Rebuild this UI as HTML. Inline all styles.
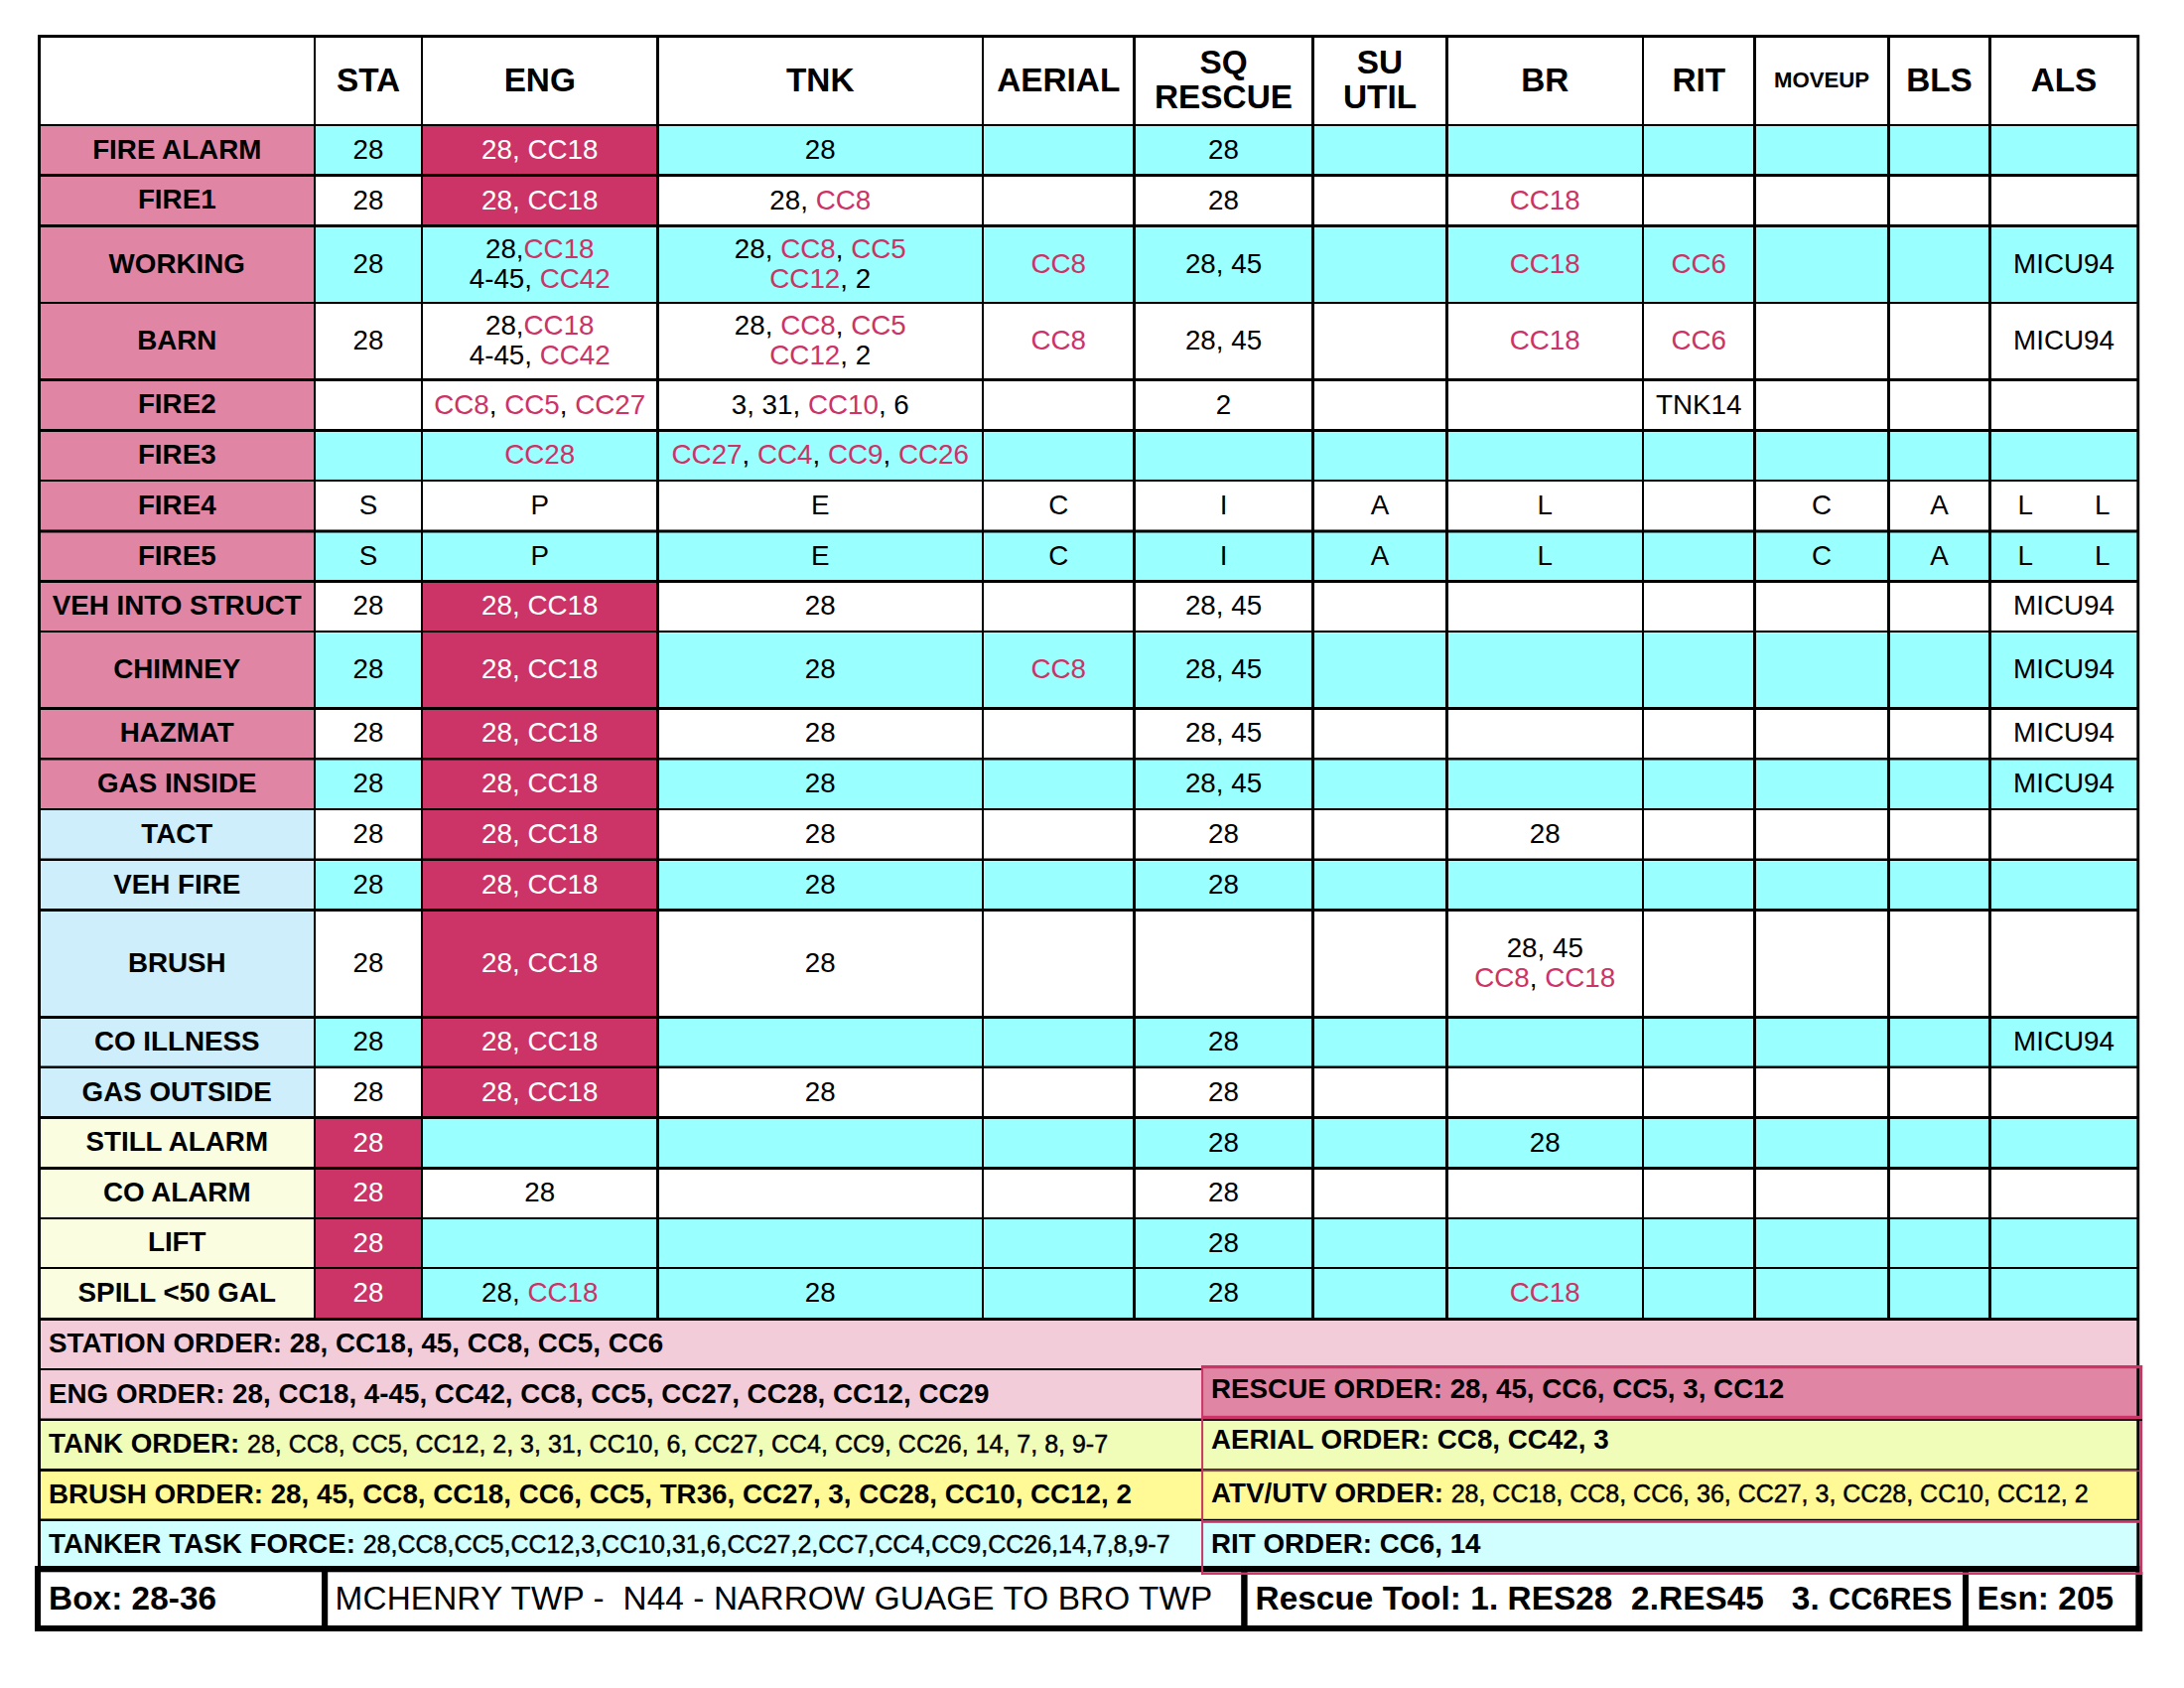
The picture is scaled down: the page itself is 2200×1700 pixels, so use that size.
<!DOCTYPE html>
<html lang="en"><head><meta charset="utf-8"><title>Box 28-36 Run Card</title>
<style>
html,body{margin:0;padding:0;background:#fff}
body{width:2200px;height:1700px;position:relative;overflow:hidden;font-family:"Liberation Sans",Arial,sans-serif;color:#000}
svg{position:absolute;left:0;top:0}
.c{position:absolute;display:flex;align-items:center;justify-content:center;text-align:center;white-space:nowrap;box-sizing:border-box}
.c>i{font-style:normal;display:block}
.h{font-weight:bold;font-size:33.33px;line-height:35.8px}
.l{font-weight:bold;font-size:27.78px;line-height:32px}
.d{font-size:27.78px;line-height:30.3px}
.w{color:#fff}
.p{color:#CC3366}
.mv{font-size:22.2px;position:relative;top:-1.4px}
.gap{display:inline-block;width:62px}
.t{position:absolute;white-space:pre;height:40px;line-height:40px}
.o{font-weight:bold;font-size:27.78px}
.v{font-weight:normal;font-size:25px;-webkit-text-stroke:0.45px #000}
.b{font-weight:bold;font-size:33.33px;letter-spacing:0.06px}
.r{font-weight:normal;letter-spacing:0.11px}
.s{font-size:30.56px}
</style></head>
<body>
<svg width="2200" height="1700" viewBox="0 0 2200 1700">
<rect x="39.5" y="126" width="277.5" height="50.5" fill="#E085A3"/>
<rect x="317" y="126" width="1836.5" height="50.5" fill="#99FFFF"/>
<rect x="425" y="126" width="237.5" height="50.5" fill="#CC3366"/>
<rect x="39.5" y="176.5" width="277.5" height="51" fill="#E085A3"/>
<rect x="425" y="176.5" width="237.5" height="51" fill="#CC3366"/>
<rect x="39.5" y="227.5" width="277.5" height="77.5" fill="#E085A3"/>
<rect x="317" y="227.5" width="1836.5" height="77.5" fill="#99FFFF"/>
<rect x="39.5" y="305" width="277.5" height="77.5" fill="#E085A3"/>
<rect x="39.5" y="382.5" width="277.5" height="51" fill="#E085A3"/>
<rect x="39.5" y="433.5" width="277.5" height="50.5" fill="#E085A3"/>
<rect x="317" y="433.5" width="1836.5" height="50.5" fill="#99FFFF"/>
<rect x="39.5" y="484" width="277.5" height="51" fill="#E085A3"/>
<rect x="39.5" y="535" width="277.5" height="50.5" fill="#E085A3"/>
<rect x="317" y="535" width="1836.5" height="50.5" fill="#99FFFF"/>
<rect x="39.5" y="585.5" width="277.5" height="50.5" fill="#E085A3"/>
<rect x="425" y="585.5" width="237.5" height="50.5" fill="#CC3366"/>
<rect x="39.5" y="636" width="277.5" height="77.5" fill="#E085A3"/>
<rect x="317" y="636" width="1836.5" height="77.5" fill="#99FFFF"/>
<rect x="425" y="636" width="237.5" height="77.5" fill="#CC3366"/>
<rect x="39.5" y="713.5" width="277.5" height="50.75" fill="#E085A3"/>
<rect x="425" y="713.5" width="237.5" height="50.75" fill="#CC3366"/>
<rect x="39.5" y="764.25" width="277.5" height="50.75" fill="#E085A3"/>
<rect x="317" y="764.25" width="1836.5" height="50.75" fill="#99FFFF"/>
<rect x="425" y="764.25" width="237.5" height="50.75" fill="#CC3366"/>
<rect x="39.5" y="815" width="277.5" height="50.75" fill="#CDEEFA"/>
<rect x="425" y="815" width="237.5" height="50.75" fill="#CC3366"/>
<rect x="39.5" y="865.75" width="277.5" height="50.75" fill="#CDEEFA"/>
<rect x="317" y="865.75" width="1836.5" height="50.75" fill="#99FFFF"/>
<rect x="425" y="865.75" width="237.5" height="50.75" fill="#CC3366"/>
<rect x="39.5" y="916.5" width="277.5" height="108" fill="#CDEEFA"/>
<rect x="425" y="916.5" width="237.5" height="108" fill="#CC3366"/>
<rect x="39.5" y="1024.5" width="277.5" height="50.25" fill="#CDEEFA"/>
<rect x="317" y="1024.5" width="1836.5" height="50.25" fill="#99FFFF"/>
<rect x="425" y="1024.5" width="237.5" height="50.25" fill="#CC3366"/>
<rect x="39.5" y="1074.75" width="277.5" height="50.75" fill="#CDEEFA"/>
<rect x="425" y="1074.75" width="237.5" height="50.75" fill="#CC3366"/>
<rect x="39.5" y="1125.5" width="277.5" height="51" fill="#FAFDE0"/>
<rect x="317" y="1125.5" width="1836.5" height="51" fill="#99FFFF"/>
<rect x="317" y="1125.5" width="108" height="51" fill="#CC3366"/>
<rect x="39.5" y="1176.5" width="277.5" height="50.5" fill="#FAFDE0"/>
<rect x="317" y="1176.5" width="108" height="50.5" fill="#CC3366"/>
<rect x="39.5" y="1227" width="277.5" height="50" fill="#FAFDE0"/>
<rect x="317" y="1227" width="1836.5" height="50" fill="#99FFFF"/>
<rect x="317" y="1227" width="108" height="50" fill="#CC3366"/>
<rect x="39.5" y="1277" width="277.5" height="51.5" fill="#FAFDE0"/>
<rect x="317" y="1277" width="1836.5" height="51.5" fill="#99FFFF"/>
<rect x="317" y="1277" width="108" height="51.5" fill="#CC3366"/>
<rect x="39.5" y="1328.5" width="2114" height="51" fill="#F2CCD9"/>
<rect x="39.5" y="1379" width="1172" height="51" fill="#F2CCD9"/>
<rect x="39.5" y="1430" width="1172" height="51" fill="#EFFDB9"/>
<rect x="39.5" y="1480.5" width="1172" height="51" fill="#FFFA96"/>
<rect x="39.5" y="1531" width="1172" height="49" fill="#D1FFFF"/>
<rect x="1211" y="1376.5" width="945.5" height="52" fill="#E085A3"/>
<rect x="1211" y="1430" width="943" height="50" fill="#EFFDB9"/>
<rect x="1211" y="1481" width="943" height="50" fill="#FFFA96"/>
<rect x="1211" y="1533" width="943" height="47" fill="#D1FFFF"/>
<rect x="316" y="36" width="2" height="1292.5" fill="#000"/>
<rect x="424" y="36" width="2" height="1292.5" fill="#000"/>
<rect x="661" y="36" width="3" height="1292.5" fill="#000"/>
<rect x="989" y="36" width="2" height="1292.5" fill="#000"/>
<rect x="1141" y="36" width="3" height="1292.5" fill="#000"/>
<rect x="1321" y="36" width="3" height="1292.5" fill="#000"/>
<rect x="1456" y="36" width="3" height="1292.5" fill="#000"/>
<rect x="1654" y="36" width="2" height="1292.5" fill="#000"/>
<rect x="1766" y="36" width="3" height="1292.5" fill="#000"/>
<rect x="1901" y="36" width="3" height="1292.5" fill="#000"/>
<rect x="2003" y="36" width="3" height="1292.5" fill="#000"/>
<rect x="38" y="35" width="3" height="1545" fill="#000"/>
<rect x="2152.3" y="35" width="2.9" height="1545" fill="#000"/>
<rect x="38" y="35" width="2117" height="3" fill="#000"/>
<rect x="38" y="125" width="2117" height="2" fill="#000"/>
<rect x="38" y="175" width="2117" height="3" fill="#000"/>
<rect x="38" y="226" width="2117" height="3" fill="#000"/>
<rect x="38" y="304" width="2117" height="2" fill="#000"/>
<rect x="38" y="381" width="2117" height="3" fill="#000"/>
<rect x="38" y="432" width="2117" height="3" fill="#000"/>
<rect x="38" y="483" width="2117" height="2" fill="#000"/>
<rect x="38" y="533.5" width="2117" height="3" fill="#000"/>
<rect x="38" y="584" width="2117" height="3" fill="#000"/>
<rect x="38" y="635" width="2117" height="2" fill="#000"/>
<rect x="38" y="712" width="2117" height="3" fill="#000"/>
<rect x="38" y="763" width="2117" height="2.5" fill="#000"/>
<rect x="38" y="814" width="2117" height="2" fill="#000"/>
<rect x="38" y="864.5" width="2117" height="2.5" fill="#000"/>
<rect x="38" y="915" width="2117" height="3" fill="#000"/>
<rect x="38" y="1023" width="2117" height="3" fill="#000"/>
<rect x="38" y="1073.5" width="2117" height="2.5" fill="#000"/>
<rect x="38" y="1124" width="2117" height="3" fill="#000"/>
<rect x="38" y="1175" width="2117" height="3" fill="#000"/>
<rect x="38" y="1226" width="2117" height="2" fill="#000"/>
<rect x="38" y="1276" width="2117" height="2" fill="#000"/>
<rect x="38" y="1327" width="2117" height="3" fill="#000"/>
<rect x="39" y="1378" width="1172" height="2" fill="#000"/>
<rect x="39" y="1428.5" width="1172" height="2.5" fill="#000"/>
<rect x="39" y="1479" width="1172" height="3" fill="#000"/>
<rect x="39" y="1529.5" width="1172" height="2.5" fill="#000"/>
<rect x="35" y="1577" width="2123" height="6.3" fill="#000"/>
<rect x="35" y="1637" width="2123" height="6" fill="#000"/>
<rect x="35" y="1577" width="6" height="66" fill="#000"/>
<rect x="2151.3" y="1583" width="6.9" height="60" fill="#000"/>
<rect x="324" y="1580" width="6.2" height="60" fill="#000"/>
<rect x="1250.2" y="1580" width="6.4" height="60" fill="#000"/>
<rect x="1977" y="1580" width="6" height="60" fill="#000"/>
<rect x="2152.3" y="1577" width="3" height="6.3" fill="#000"/>
<rect x="1210.1" y="1375" width="2" height="211" fill="#CC3366"/>
<rect x="1210.1" y="1375" width="948" height="3.2" fill="#CC3366"/>
<rect x="2155.2" y="1375" width="3" height="211" fill="#CC3366"/>
<rect x="1212" y="1425.8" width="946" height="3.3" fill="#CC3366"/>
<rect x="1212" y="1429.1" width="946" height="1.8" fill="#000"/>
<rect x="1212" y="1479.2" width="942" height="1.5" fill="#000"/>
<rect x="1212" y="1480.7" width="946" height="1.4" fill="#CC3366"/>
<rect x="1212" y="1529.8" width="942" height="1.2" fill="#000"/>
<rect x="1212" y="1531" width="946" height="2.8" fill="#CC3366"/>
<rect x="1210.1" y="1583.5" width="948" height="2.4" fill="#CC3366"/>
</svg>
<div class="c h" style="left:317px;top:35.7px;width:108px;height:89.5px"><i>STA</i></div>
<div class="c h" style="left:425px;top:35.7px;width:237.5px;height:89.5px"><i>ENG</i></div>
<div class="c h" style="left:662.5px;top:35.7px;width:327.5px;height:89.5px"><i>TNK</i></div>
<div class="c h" style="left:990px;top:35.7px;width:152.5px;height:89.5px"><i>AERIAL</i></div>
<div class="c h" style="left:1142.5px;top:35.7px;width:180px;height:89.5px"><i>SQ<br>RESCUE</i></div>
<div class="c h" style="left:1322.5px;top:35.7px;width:135px;height:89.5px"><i>SU<br>UTIL</i></div>
<div class="c h" style="left:1457.5px;top:35.7px;width:197.5px;height:89.5px"><i>BR</i></div>
<div class="c h" style="left:1655px;top:35.7px;width:112.5px;height:89.5px"><i>RIT</i></div>
<div class="c h" style="left:1767.5px;top:35.7px;width:135px;height:89.5px"><i><span class="mv">MOVEUP</span></i></div>
<div class="c h" style="left:1902.5px;top:35.7px;width:102px;height:89.5px"><i>BLS</i></div>
<div class="c h" style="left:2004.5px;top:35.7px;width:149px;height:89.5px"><i>ALS</i></div>
<div class="c l" style="left:39.5px;top:125.4px;width:277.5px;height:50.5px"><i>FIRE ALARM</i></div>
<div class="c d" style="left:317px;top:125.7px;width:108px;height:50.5px"><i>28</i></div>
<div class="c d w" style="left:425px;top:125.7px;width:237.5px;height:50.5px"><i>28, CC18</i></div>
<div class="c d" style="left:662.5px;top:125.7px;width:327.5px;height:50.5px"><i>28</i></div>
<div class="c d" style="left:1142.5px;top:125.7px;width:180px;height:50.5px"><i>28</i></div>
<div class="c l" style="left:39.5px;top:175.9px;width:277.5px;height:51px"><i>FIRE1</i></div>
<div class="c d" style="left:317px;top:176.2px;width:108px;height:51px"><i>28</i></div>
<div class="c d w" style="left:425px;top:176.2px;width:237.5px;height:51px"><i>28, CC18</i></div>
<div class="c d" style="left:662.5px;top:176.2px;width:327.5px;height:51px"><i>28, <span class="p">CC8</span></i></div>
<div class="c d" style="left:1142.5px;top:176.2px;width:180px;height:51px"><i>28</i></div>
<div class="c d" style="left:1457.5px;top:176.2px;width:197.5px;height:51px"><i><span class="p">CC18</span></i></div>
<div class="c l" style="left:39.5px;top:226.9px;width:277.5px;height:77.5px"><i>WORKING</i></div>
<div class="c d" style="left:317px;top:227.2px;width:108px;height:77.5px"><i>28</i></div>
<div class="c d" style="left:425px;top:227.2px;width:237.5px;height:77.5px"><i>28,<span class="p">CC18</span><br>4-45, <span class="p">CC42</span></i></div>
<div class="c d" style="left:662.5px;top:227.2px;width:327.5px;height:77.5px"><i>28, <span class="p">CC8</span>, <span class="p">CC5</span><br><span class="p">CC12</span>, 2</i></div>
<div class="c d" style="left:990px;top:227.2px;width:152.5px;height:77.5px"><i><span class="p">CC8</span></i></div>
<div class="c d" style="left:1142.5px;top:227.2px;width:180px;height:77.5px"><i>28, 45</i></div>
<div class="c d" style="left:1457.5px;top:227.2px;width:197.5px;height:77.5px"><i><span class="p">CC18</span></i></div>
<div class="c d" style="left:1655px;top:227.2px;width:112.5px;height:77.5px"><i><span class="p">CC6</span></i></div>
<div class="c d" style="left:2004.5px;top:227.2px;width:149px;height:77.5px"><i>MICU94</i></div>
<div class="c l" style="left:39.5px;top:304.4px;width:277.5px;height:77.5px"><i>BARN</i></div>
<div class="c d" style="left:317px;top:304.7px;width:108px;height:77.5px"><i>28</i></div>
<div class="c d" style="left:425px;top:304.7px;width:237.5px;height:77.5px"><i>28,<span class="p">CC18</span><br>4-45, <span class="p">CC42</span></i></div>
<div class="c d" style="left:662.5px;top:304.7px;width:327.5px;height:77.5px"><i>28, <span class="p">CC8</span>, <span class="p">CC5</span><br><span class="p">CC12</span>, 2</i></div>
<div class="c d" style="left:990px;top:304.7px;width:152.5px;height:77.5px"><i><span class="p">CC8</span></i></div>
<div class="c d" style="left:1142.5px;top:304.7px;width:180px;height:77.5px"><i>28, 45</i></div>
<div class="c d" style="left:1457.5px;top:304.7px;width:197.5px;height:77.5px"><i><span class="p">CC18</span></i></div>
<div class="c d" style="left:1655px;top:304.7px;width:112.5px;height:77.5px"><i><span class="p">CC6</span></i></div>
<div class="c d" style="left:2004.5px;top:304.7px;width:149px;height:77.5px"><i>MICU94</i></div>
<div class="c l" style="left:39.5px;top:381.9px;width:277.5px;height:51px"><i>FIRE2</i></div>
<div class="c d" style="left:425px;top:382.2px;width:237.5px;height:51px"><i><span class="p">CC8</span>, <span class="p">CC5</span>, <span class="p">CC27</span></i></div>
<div class="c d" style="left:662.5px;top:382.2px;width:327.5px;height:51px"><i>3, 31, <span class="p">CC10</span>, 6</i></div>
<div class="c d" style="left:1142.5px;top:382.2px;width:180px;height:51px"><i>2</i></div>
<div class="c d" style="left:1655px;top:382.2px;width:112.5px;height:51px"><i>TNK14</i></div>
<div class="c l" style="left:39.5px;top:432.9px;width:277.5px;height:50.5px"><i>FIRE3</i></div>
<div class="c d" style="left:425px;top:433.2px;width:237.5px;height:50.5px"><i><span class="p">CC28</span></i></div>
<div class="c d" style="left:662.5px;top:433.2px;width:327.5px;height:50.5px"><i><span class="p">CC27</span>, <span class="p">CC4</span>, <span class="p">CC9</span>, <span class="p">CC26</span></i></div>
<div class="c l" style="left:39.5px;top:483.4px;width:277.5px;height:51px"><i>FIRE4</i></div>
<div class="c d" style="left:317px;top:483.7px;width:108px;height:51px"><i>S</i></div>
<div class="c d" style="left:425px;top:483.7px;width:237.5px;height:51px"><i>P</i></div>
<div class="c d" style="left:662.5px;top:483.7px;width:327.5px;height:51px"><i>E</i></div>
<div class="c d" style="left:990px;top:483.7px;width:152.5px;height:51px"><i>C</i></div>
<div class="c d" style="left:1142.5px;top:483.7px;width:180px;height:51px"><i>I</i></div>
<div class="c d" style="left:1322.5px;top:483.7px;width:135px;height:51px"><i>A</i></div>
<div class="c d" style="left:1457.5px;top:483.7px;width:197.5px;height:51px"><i>L</i></div>
<div class="c d" style="left:1767.5px;top:483.7px;width:135px;height:51px"><i>C</i></div>
<div class="c d" style="left:1902.5px;top:483.7px;width:102px;height:51px"><i>A</i></div>
<div class="c d" style="left:2004.5px;top:483.7px;width:149px;height:51px"><i>L<span class="gap"></span>L</i></div>
<div class="c l" style="left:39.5px;top:534.4px;width:277.5px;height:50.5px"><i>FIRE5</i></div>
<div class="c d" style="left:317px;top:534.7px;width:108px;height:50.5px"><i>S</i></div>
<div class="c d" style="left:425px;top:534.7px;width:237.5px;height:50.5px"><i>P</i></div>
<div class="c d" style="left:662.5px;top:534.7px;width:327.5px;height:50.5px"><i>E</i></div>
<div class="c d" style="left:990px;top:534.7px;width:152.5px;height:50.5px"><i>C</i></div>
<div class="c d" style="left:1142.5px;top:534.7px;width:180px;height:50.5px"><i>I</i></div>
<div class="c d" style="left:1322.5px;top:534.7px;width:135px;height:50.5px"><i>A</i></div>
<div class="c d" style="left:1457.5px;top:534.7px;width:197.5px;height:50.5px"><i>L</i></div>
<div class="c d" style="left:1767.5px;top:534.7px;width:135px;height:50.5px"><i>C</i></div>
<div class="c d" style="left:1902.5px;top:534.7px;width:102px;height:50.5px"><i>A</i></div>
<div class="c d" style="left:2004.5px;top:534.7px;width:149px;height:50.5px"><i>L<span class="gap"></span>L</i></div>
<div class="c l" style="left:39.5px;top:584.9px;width:277.5px;height:50.5px"><i>VEH INTO STRUCT</i></div>
<div class="c d" style="left:317px;top:585.2px;width:108px;height:50.5px"><i>28</i></div>
<div class="c d w" style="left:425px;top:585.2px;width:237.5px;height:50.5px"><i>28, CC18</i></div>
<div class="c d" style="left:662.5px;top:585.2px;width:327.5px;height:50.5px"><i>28</i></div>
<div class="c d" style="left:1142.5px;top:585.2px;width:180px;height:50.5px"><i>28, 45</i></div>
<div class="c d" style="left:2004.5px;top:585.2px;width:149px;height:50.5px"><i>MICU94</i></div>
<div class="c l" style="left:39.5px;top:635.4px;width:277.5px;height:77.5px"><i>CHIMNEY</i></div>
<div class="c d" style="left:317px;top:635.7px;width:108px;height:77.5px"><i>28</i></div>
<div class="c d w" style="left:425px;top:635.7px;width:237.5px;height:77.5px"><i>28, CC18</i></div>
<div class="c d" style="left:662.5px;top:635.7px;width:327.5px;height:77.5px"><i>28</i></div>
<div class="c d" style="left:990px;top:635.7px;width:152.5px;height:77.5px"><i><span class="p">CC8</span></i></div>
<div class="c d" style="left:1142.5px;top:635.7px;width:180px;height:77.5px"><i>28, 45</i></div>
<div class="c d" style="left:2004.5px;top:635.7px;width:149px;height:77.5px"><i>MICU94</i></div>
<div class="c l" style="left:39.5px;top:712.9px;width:277.5px;height:50.75px"><i>HAZMAT</i></div>
<div class="c d" style="left:317px;top:713.2px;width:108px;height:50.75px"><i>28</i></div>
<div class="c d w" style="left:425px;top:713.2px;width:237.5px;height:50.75px"><i>28, CC18</i></div>
<div class="c d" style="left:662.5px;top:713.2px;width:327.5px;height:50.75px"><i>28</i></div>
<div class="c d" style="left:1142.5px;top:713.2px;width:180px;height:50.75px"><i>28, 45</i></div>
<div class="c d" style="left:2004.5px;top:713.2px;width:149px;height:50.75px"><i>MICU94</i></div>
<div class="c l" style="left:39.5px;top:763.65px;width:277.5px;height:50.75px"><i>GAS INSIDE</i></div>
<div class="c d" style="left:317px;top:763.95px;width:108px;height:50.75px"><i>28</i></div>
<div class="c d w" style="left:425px;top:763.95px;width:237.5px;height:50.75px"><i>28, CC18</i></div>
<div class="c d" style="left:662.5px;top:763.95px;width:327.5px;height:50.75px"><i>28</i></div>
<div class="c d" style="left:1142.5px;top:763.95px;width:180px;height:50.75px"><i>28, 45</i></div>
<div class="c d" style="left:2004.5px;top:763.95px;width:149px;height:50.75px"><i>MICU94</i></div>
<div class="c l" style="left:39.5px;top:814.4px;width:277.5px;height:50.75px"><i>TACT</i></div>
<div class="c d" style="left:317px;top:814.7px;width:108px;height:50.75px"><i>28</i></div>
<div class="c d w" style="left:425px;top:814.7px;width:237.5px;height:50.75px"><i>28, CC18</i></div>
<div class="c d" style="left:662.5px;top:814.7px;width:327.5px;height:50.75px"><i>28</i></div>
<div class="c d" style="left:1142.5px;top:814.7px;width:180px;height:50.75px"><i>28</i></div>
<div class="c d" style="left:1457.5px;top:814.7px;width:197.5px;height:50.75px"><i>28</i></div>
<div class="c l" style="left:39.5px;top:865.15px;width:277.5px;height:50.75px"><i>VEH FIRE</i></div>
<div class="c d" style="left:317px;top:865.45px;width:108px;height:50.75px"><i>28</i></div>
<div class="c d w" style="left:425px;top:865.45px;width:237.5px;height:50.75px"><i>28, CC18</i></div>
<div class="c d" style="left:662.5px;top:865.45px;width:327.5px;height:50.75px"><i>28</i></div>
<div class="c d" style="left:1142.5px;top:865.45px;width:180px;height:50.75px"><i>28</i></div>
<div class="c l" style="left:39.5px;top:915.9px;width:277.5px;height:108px"><i>BRUSH</i></div>
<div class="c d" style="left:317px;top:916.2px;width:108px;height:108px"><i>28</i></div>
<div class="c d w" style="left:425px;top:916.2px;width:237.5px;height:108px"><i>28, CC18</i></div>
<div class="c d" style="left:662.5px;top:916.2px;width:327.5px;height:108px"><i>28</i></div>
<div class="c d" style="left:1457.5px;top:916.2px;width:197.5px;height:108px"><i>28, 45<br><span class="p">CC8</span>, <span class="p">CC18</span></i></div>
<div class="c l" style="left:39.5px;top:1023.9px;width:277.5px;height:50.25px"><i>CO ILLNESS</i></div>
<div class="c d" style="left:317px;top:1024.2px;width:108px;height:50.25px"><i>28</i></div>
<div class="c d w" style="left:425px;top:1024.2px;width:237.5px;height:50.25px"><i>28, CC18</i></div>
<div class="c d" style="left:1142.5px;top:1024.2px;width:180px;height:50.25px"><i>28</i></div>
<div class="c d" style="left:2004.5px;top:1024.2px;width:149px;height:50.25px"><i>MICU94</i></div>
<div class="c l" style="left:39.5px;top:1074.15px;width:277.5px;height:50.75px"><i>GAS OUTSIDE</i></div>
<div class="c d" style="left:317px;top:1074.45px;width:108px;height:50.75px"><i>28</i></div>
<div class="c d w" style="left:425px;top:1074.45px;width:237.5px;height:50.75px"><i>28, CC18</i></div>
<div class="c d" style="left:662.5px;top:1074.45px;width:327.5px;height:50.75px"><i>28</i></div>
<div class="c d" style="left:1142.5px;top:1074.45px;width:180px;height:50.75px"><i>28</i></div>
<div class="c l" style="left:39.5px;top:1124.9px;width:277.5px;height:51px"><i>STILL ALARM</i></div>
<div class="c d w" style="left:317px;top:1125.2px;width:108px;height:51px"><i>28</i></div>
<div class="c d" style="left:1142.5px;top:1125.2px;width:180px;height:51px"><i>28</i></div>
<div class="c d" style="left:1457.5px;top:1125.2px;width:197.5px;height:51px"><i>28</i></div>
<div class="c l" style="left:39.5px;top:1175.9px;width:277.5px;height:50.5px"><i>CO ALARM</i></div>
<div class="c d w" style="left:317px;top:1176.2px;width:108px;height:50.5px"><i>28</i></div>
<div class="c d" style="left:425px;top:1176.2px;width:237.5px;height:50.5px"><i>28</i></div>
<div class="c d" style="left:1142.5px;top:1176.2px;width:180px;height:50.5px"><i>28</i></div>
<div class="c l" style="left:39.5px;top:1226.4px;width:277.5px;height:50px"><i>LIFT</i></div>
<div class="c d w" style="left:317px;top:1226.7px;width:108px;height:50px"><i>28</i></div>
<div class="c d" style="left:1142.5px;top:1226.7px;width:180px;height:50px"><i>28</i></div>
<div class="c l" style="left:39.5px;top:1276.4px;width:277.5px;height:51.5px"><i>SPILL &lt;50 GAL</i></div>
<div class="c d w" style="left:317px;top:1276.7px;width:108px;height:51.5px"><i>28</i></div>
<div class="c d" style="left:425px;top:1276.7px;width:237.5px;height:51.5px"><i>28, <span class="p">CC18</span></i></div>
<div class="c d" style="left:662.5px;top:1276.7px;width:327.5px;height:51.5px"><i>28</i></div>
<div class="c d" style="left:1142.5px;top:1276.7px;width:180px;height:51.5px"><i>28</i></div>
<div class="c d" style="left:1457.5px;top:1276.7px;width:197.5px;height:51.5px"><i><span class="p">CC18</span></i></div>
<div class="t o" style="left:49px;top:1332.97px">STATION ORDER: 28, CC18, 45, CC8, CC5, CC6</div>
<div class="t o" style="left:49px;top:1383.77px">ENG ORDER: 28, CC18, 4-45, CC42, CC8, CC5, CC27, CC28, CC12, CC29</div>
<div class="t o" style="left:49px;top:1434.27px">TANK ORDER: <span class="v">28, CC8, CC5, CC12, 2, 3, 31, CC10, 6, CC27, CC4, CC9, CC26, 14, 7, 8, 9-7</span></div>
<div class="t o" style="left:49px;top:1484.77px">BRUSH ORDER: 28, 45, CC8, CC18, CC6, CC5, TR36, CC27, 3, CC28, CC10, CC12, 2</div>
<div class="t o" style="left:49px;top:1535.27px">TANKER TASK FORCE: <span class="v">28,CC8,CC5,CC12,3,CC10,31,6,CC27,2,CC7,CC4,CC9,CC26,14,7,8,9-7</span></div>
<div class="t o" style="left:1220px;top:1378.97px">RESCUE ORDER: 28, 45, CC6, CC5, 3, CC12</div>
<div class="t o" style="left:1220px;top:1430.17px">AERIAL ORDER: CC8, CC42, 3</div>
<div class="t o" style="left:1220px;top:1484.17px">ATV/UTV ORDER: <span class="v">28, CC18, CC8, CC6, 36, CC27, 3, CC28, CC10, CC12, 2</span></div>
<div class="t o" style="left:1220px;top:1535.07px">RIT ORDER: CC6, 14</div>
<div class="t b" style="left:49px;top:1589.65px">Box: 28-36</div>
<div class="t b r" style="left:337.6px;top:1589.65px">MCHENRY TWP -&nbsp; N44 - NARROW GUAGE TO BRO TWP</div>
<div class="t b" style="left:1264.5px;top:1589.65px">Rescue Tool: 1. RES28&nbsp; 2.RES45&nbsp;&nbsp; 3. <span class="s">CC6RES</span></div>
<div class="t b" style="left:1991.5px;top:1589.65px">Esn: 205</div>
</body></html>
